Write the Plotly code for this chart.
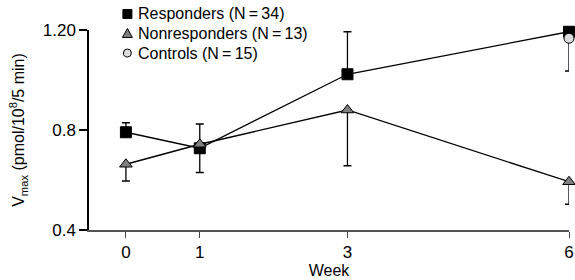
import plotly.graph_objects as go

weeks = [0, 1, 3, 6]
resp_vals = [0.791, 0.727, 1.023, 1.193]
resp_err_up = [0.038, 0.097, 0.170, 0.098]
resp_err_down = [0.0, 0.097, 0.0, 0.0]

nonresp_vals = [0.663, 0.743, 0.880, 0.593]
nonresp_err_up = [0.0, 0.0, 0.0, 0.0]
nonresp_err_down = [0.067, 0.0, 0.223, 0.090]

ctrl_weeks = [6]
ctrl_vals = [1.167]
ctrl_err_down = [0.131]

series_names = ["Responders (N\u2009=\u200934)", "Nonresponders (N\u2009=\u200913)", "Controls (N\u2009=\u200915)"]

y_tickvals = [0.4, 0.8, 1.2]
y_ticktext = ["0.4", "0.8", "1.20"]
x_tickvals = [0, 1, 3, 6]

FONT = "Liberation Sans, Arial, sans-serif"

sq = dict(symbol="square", size=11, color="black", line=dict(color="black", width=1))
tri = dict(symbol="triangle-up", size=11, color="#7f7f7f", line=dict(color="black", width=1))
circ = dict(symbol="circle", size=10, color="#dcdcdc", line=dict(color="black", width=1))

fig = go.Figure()
fig.add_trace(go.Scatter(
    x=weeks, y=resp_vals, mode="lines+markers", name=series_names[0], showlegend=False,
    line=dict(color="black", width=1.3), marker=sq,
    error_y=dict(type="data", symmetric=False, array=resp_err_up, arrayminus=resp_err_down,
                 color="black", thickness=1.3, width=4),
    cliponaxis=False,
))
fig.add_trace(go.Scatter(
    x=weeks, y=nonresp_vals, mode="lines+markers", name=series_names[1], showlegend=False,
    line=dict(color="black", width=1.3), marker=tri,
    error_y=dict(type="data", symmetric=False, array=nonresp_err_up, arrayminus=nonresp_err_down,
                 color="black", thickness=1.3, width=4),
    cliponaxis=False,
))
fig.add_trace(go.Scatter(
    x=ctrl_weeks, y=ctrl_vals, mode="markers", name=series_names[2], showlegend=False, marker=circ,
    error_y=dict(type="data", symmetric=False, array=[0], arrayminus=ctrl_err_down,
                 color="black", thickness=1.3, width=4),
    cliponaxis=False,
))

# Hand-built legend (paper coordinates)
PW, PH = 480.0, 200.0           # plot area size in px
lx_sym, lx_txt = 0.080, 0.097
rows = [1.08, 0.985, 0.885]
hx, hy = 4.5 / PW, 4.5 / PH
shapes = []
shapes.append(dict(type="rect", xref="paper", yref="paper",
                   x0=lx_sym - hx, x1=lx_sym + hx, y0=rows[0] - hy, y1=rows[0] + hy,
                   fillcolor="black", line=dict(color="black", width=1)))
tx, ty = 5.0 / PW, 4.5 / PH
shapes.append(dict(type="path", xref="paper", yref="paper",
                   path=f"M {lx_sym - tx},{rows[1] - ty} L {lx_sym + tx},{rows[1] - ty} L {lx_sym},{rows[1] + ty} Z",
                   fillcolor="#7f7f7f", line=dict(color="black", width=1)))
cx, cy = 4.0 / PW, 4.0 / PH
shapes.append(dict(type="circle", xref="paper", yref="paper",
                   x0=lx_sym - cx, x1=lx_sym + cx, y0=rows[2] - cy, y1=rows[2] + cy,
                   fillcolor="#dcdcdc", line=dict(color="black", width=1)))
annotations = [dict(text=nm, xref="paper", yref="paper", x=lx_txt, y=yy, xanchor="left",
                    yanchor="middle", showarrow=False, font=dict(size=16, family=FONT, color="black"))
               for nm, yy in zip(series_names, rows)]

fig.update_layout(
    width=575, height=280,
    margin=dict(l=89, r=6, t=30, b=50, autoexpand=False),
    paper_bgcolor="white", plot_bgcolor="white",
    font=dict(family=FONT, color="black", size=16),
    showlegend=False,
    shapes=shapes, annotations=annotations,
    xaxis=dict(range=[-0.5, 6.0], tickvals=x_tickvals, ticks="outside", ticklen=6,
               tickwidth=1.3, tickcolor="#444", showline=True, linecolor="#555", linewidth=2,
               showgrid=False, zeroline=False, tickfont=dict(size=17), ticklabeloverflow="allow",
               title=dict(text="Week", font=dict(size=16), standoff=1)),
    yaxis=dict(range=[0.4, 1.2], tickvals=y_tickvals, ticktext=y_ticktext, ticks="outside",
               ticklen=8, tickwidth=1.5, tickcolor="black", showline=True, linecolor="black",
               linewidth=1.5, showgrid=False, zeroline=False, tickfont=dict(size=17),
               title=dict(text="V<sub>max</sub> (pmol/10<sup>8</sup>/5 min)", font=dict(size=16),
                          standoff=14)),
)

fig.write_html("out.html", config={"displayModeBar": False},
               post_script="document.body.style.margin='0';document.body.style.overflow='hidden';")
